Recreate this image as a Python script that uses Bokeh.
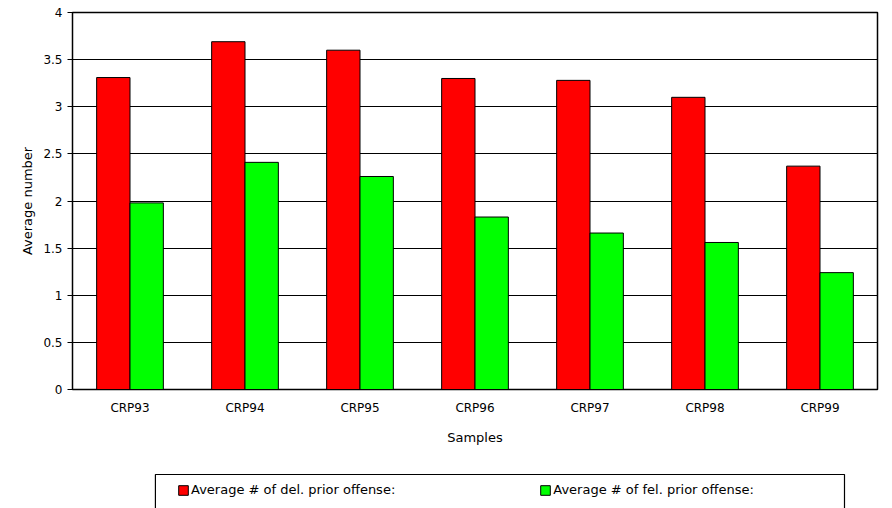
from bokeh.plotting import figure
from bokeh.models import Legend, LegendItem, ColumnDataSource, FactorRange, BoxAnnotation
from bokeh.layouts import column
from bokeh.transform import dodge
from bokeh.embed import file_html
from bokeh.resources import INLINE

samples = ["CRP93", "CRP94", "CRP95", "CRP96", "CRP97", "CRP98", "CRP99"]
del_prior = [3.31, 3.69, 3.60, 3.30, 3.28, 3.10, 2.37]
fel_prior = [1.98, 2.41, 2.26, 1.83, 1.66, 1.56, 1.24]
series_names = ["Average # of del. prior offense:", "Average # of fel. prior offense:"]
colors = ["#ff0000", "#00ff00"]

src = ColumnDataSource(dict(s=samples, d=del_prior, f=fel_prior))

p = figure(x_range=FactorRange(*samples, range_padding=0), y_range=(0, 4),
           width=884, height=460, output_backend="svg", toolbar_location=None,
           min_border_left=72, min_border_right=7, min_border_top=12, min_border_bottom=71)
p.outline_line_color = "black"
p.outline_line_width = 1.5

p.vbar(x=dodge("s", -0.145, range=p.x_range), top="d", width=0.29, source=src,
       fill_color=colors[0], line_color="black")
p.vbar(x=dodge("s", 0.145, range=p.x_range), top="f", width=0.29, source=src,
       fill_color=colors[1], line_color="black")

p.xgrid.grid_line_color = None
p.ygrid.grid_line_color = "black"
p.ygrid.grid_line_alpha = 1
p.yaxis.ticker = [0, 0.5, 1, 1.5, 2, 2.5, 3, 3.5, 4]
p.yaxis.minor_tick_line_color = None
p.yaxis.major_tick_in = 0
p.yaxis.major_tick_out = 5
p.xaxis.major_tick_line_color = None
p.yaxis.axis_label = "Average number"
p.xaxis.axis_label = "Samples"
for ax in (p.xaxis, p.yaxis):
    ax.axis_label_text_font = "DejaVu Sans"
    ax.axis_label_text_font_style = "normal"
    ax.axis_label_text_font_size = "13px"
    ax.axis_label_text_color = "black"
    ax.major_label_text_font = "DejaVu Sans"
    ax.major_label_text_font_size = "12px"
    ax.major_label_text_color = "black"
    ax.axis_line_color = "black"
p.xaxis.axis_label_standoff = 12

# legend lives in its own strip below the chart
lf = figure(width=884, height=48, output_backend="svg", toolbar_location=None,
            min_border=0, x_range=(0, 1), y_range=(0, 1))
lf.xaxis.visible = False
lf.yaxis.visible = False
lf.grid.visible = False
lf.outline_line_color = None
# proxy glyphs, hidden under the legend box
proxy = ColumnDataSource(dict(x=[0.5], bottom=[0.2], top=[0.3]))
items = []
for name, c in zip(series_names, colors):
    r = lf.vbar(x="x", bottom="bottom", top="top", width=0.01, source=proxy,
                fill_color=c, line_color="black")
    items.append(LegendItem(label=name, renderers=[r]))
lf.add_layout(BoxAnnotation(left=0.103, right=0.959, top=0.708, bottom=-1,
                            fill_color="white", fill_alpha=1,
                            line_color="black", line_alpha=1, line_width=1.2))
legend = Legend(items=items, orientation="horizontal", location=(105, 11),
                border_line_color=None, label_text_font="DejaVu Sans",
                label_text_font_size="13px", label_text_color="black", spacing=144,
                glyph_width=12, glyph_height=12, padding=6, margin=0, label_standoff=2,
                background_fill_alpha=0)
lf.add_layout(legend, "center")

open("out.html", "w").write(file_html(column(p, lf, spacing=0), INLINE))
